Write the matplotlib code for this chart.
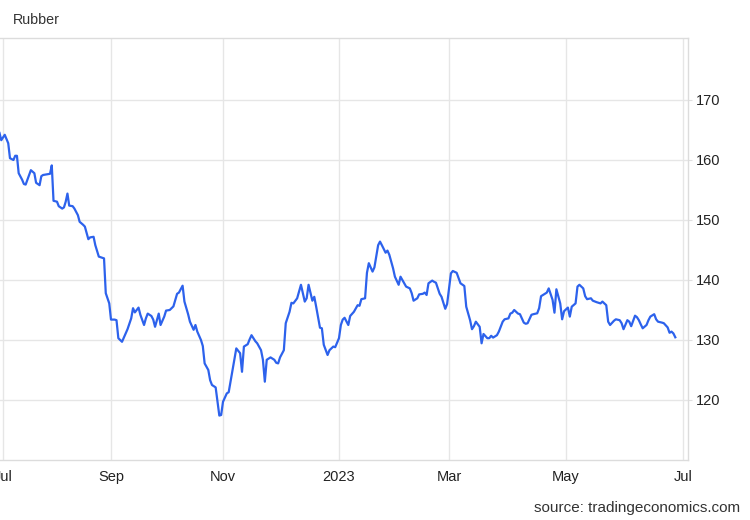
import datetime as dt
import numpy as np
import matplotlib
matplotlib.use("Agg")
import matplotlib.pyplot as plt
import matplotlib.dates as mdates

# rubber price; x = days after 2022-07-01
start = dt.date(2022, 7, 1)
day_offsets = [
    -2, -1, 1, 3, 4, 6, 7, 8, 9, 11, 12, 13, 15, 16, 18, 19, 21, 22, 23, 25,
    27, 28, 29, 31, 32, 34, 35, 36, 37, 38, 40, 41, 43, 44, 46, 47, 49, 50, 52, 53,
    55, 56, 58, 59, 61,
    62, 64, 65, 66, 68, 70, 71, 73, 74, 75, 77, 78, 80, 81, 82, 84, 85, 86, 88, 89,
    91, 92, 94, 96, 98, 99, 101, 102, 104, 105, 107, 108, 109, 111, 112, 113, 115, 116, 117, 119,
    121, 122,
    123, 125, 126, 128, 129, 130, 132, 133, 134, 136, 137, 138, 140, 141, 143, 144, 145, 146, 148, 150,
    151, 152, 153, 155, 156, 158, 159, 160, 162, 163, 164, 166, 167, 168, 170, 171, 172, 174, 175, 176,
    178, 179, 181, 182, 184,
    185, 186, 187, 189, 190, 192, 194, 195, 196, 198, 199, 200, 202, 203, 205, 206, 207, 209, 210, 211,
    213, 214, 216, 217, 219, 220, 222, 223, 224, 226, 227, 229, 230, 231, 232, 234, 235, 236, 238, 239,
    241, 242,
    244, 245, 247, 248, 249, 251, 252, 254, 255, 256, 257, 259, 260, 261, 263, 264, 265, 266, 268, 269,
    271, 272, 274, 275, 276, 277, 279, 280, 282, 283, 284, 286, 287, 289, 290, 291, 292, 294, 295, 297,
    298, 299, 301, 302, 303,
    305, 306, 307, 309, 310, 311, 313, 314, 315, 317, 318, 320, 322, 323, 325, 326, 327, 329, 330, 332,
    333, 334, 336, 337, 338, 340, 341, 342, 343, 344, 346, 347, 348, 350, 351, 352, 354, 355, 357, 358,
    359, 360, 361,
]
prices = [
    164.5, 163.3, 164.2, 162.8, 160.3, 160.0, 160.7, 160.7, 157.8, 156.7, 156.0, 155.9, 157.5, 158.3, 157.8, 156.2, 155.8, 157.3, 157.5, 157.6,
    157.7, 159.1, 153.2, 153.05, 152.3, 151.9, 152.1, 153.05, 154.4, 152.4, 152.3, 151.9, 150.8, 149.7, 149.2, 148.9, 146.8, 147.1, 147.2, 145.8,
    143.9, 143.8, 143.6, 137.8, 136.1,
    133.4, 133.4, 133.3, 130.3, 129.7, 131.1, 131.8, 133.6, 135.3, 134.6, 135.4, 134.2, 132.5, 133.6, 134.4, 134.0, 133.4, 132.2, 134.4, 132.5,
    133.9, 134.9, 135.0, 135.6, 137.7, 137.9, 139.05, 136.4, 134.3, 133.05, 131.7, 132.5, 131.4, 130.0, 129.0, 126.1, 125.0, 123.3, 122.5, 122.1,
    117.4, 117.5,
    119.7, 121.1, 121.3, 125.0, 126.8, 128.6, 127.8, 124.7, 128.9, 129.3, 130.1, 130.8, 129.8, 129.45, 128.3, 126.7, 123.05, 126.7, 127.1, 126.7,
    126.2, 126.1, 127.1, 128.3, 132.8, 134.7, 136.2, 136.1, 136.95, 138.05, 139.2, 136.4, 136.95, 139.2, 136.55, 137.2, 135.55, 132.05, 131.95, 129.2,
    127.5, 128.3, 128.9, 128.8, 130.3,
    132.5, 133.4, 133.7, 132.5, 134.0, 134.7, 135.8, 135.7, 136.8, 136.95, 141.2, 142.8, 141.4, 142.1, 145.8, 146.4, 145.8, 144.55, 144.9, 144.2,
    141.95, 140.55, 139.2, 140.55, 139.45, 138.9, 138.6, 137.8, 136.55, 136.95, 137.6, 137.7, 137.9, 137.5, 139.45, 139.9, 139.7, 139.55, 137.7, 137.2,
    135.2, 136.0,
    141.1, 141.5, 141.2, 140.3, 139.45, 139.0, 135.55, 133.3, 131.8, 132.3, 133.05, 132.2, 129.45, 131.0, 130.3, 130.3, 130.7, 130.4, 130.8, 131.4,
    133.05, 133.45, 133.6, 134.4, 134.55, 135.0, 134.4, 134.3, 132.9, 132.7, 132.8, 134.2, 134.3, 134.45, 135.3, 137.3, 137.5, 137.9, 138.6, 136.7,
    134.55, 138.45, 136.1, 133.45, 134.8,
    135.4, 133.9, 135.55, 136.1, 138.9, 139.2, 138.6, 137.3, 136.8, 136.95, 136.55, 136.3, 136.1, 136.4, 135.8, 133.05, 132.5, 133.2, 133.45, 133.3,
    132.8, 131.8, 133.3, 133.05, 132.3, 134.05, 133.8, 133.3, 132.6, 131.95, 132.5, 133.3, 133.9, 134.3, 133.45, 133.05, 132.9, 132.8, 132.1, 131.2,
    131.4, 131.1, 130.45,
]
tick_dates = ["2022-07-01", "2022-09-01", "2022-11-01", "2023-01-01",
              "2023-03-01", "2023-05-01", "2023-07-01"]
tick_labels = ["Jul", "Sep", "Nov", "2023", "Mar", "May", "Jul"]
y_ticks = [120, 130, 140, 150, 160, 170]

dates = [start + dt.timedelta(days=d) for d in day_offsets]
tick_dt = [dt.datetime.strptime(s, "%Y-%m-%d") for s in tick_dates]

# the source axis is not evenly spaced in calendar days (trading sessions),
# so use a piecewise-linear scale that puts the month starts where it does
tick_num = mdates.date2num(tick_dt)
tick_pos = np.array([3, 111, 223, 339, 449, 566, 683], dtype=float)
anchor_num = np.concatenate([[tick_num[0] - 62], tick_num, [tick_num[-1] + 61]])
anchor_pos = np.concatenate([[tick_pos[0] - 108], tick_pos, [tick_pos[-1] + 117]])


def fwd(x):
    return np.interp(x, anchor_num, anchor_pos)


def inv(p):
    return np.interp(p, anchor_pos, anchor_num)


plt.rcParams["font.family"] = ["Liberation Sans", "DejaVu Sans"]

fig = plt.figure(figsize=(7.5, 5.2), dpi=100)
ax = fig.add_axes([0.0, 0.1154, 0.9173, 0.8115])

ax.plot(dates, prices, color="#2d62ec", linewidth=1.6, solid_joinstyle="round")

ax.set_xscale("function", functions=(fwd, inv))
ax.set_ylim(110, 180.33)
ax.set_xlim(inv(0), inv(688))

ax.set_xticks(tick_num)
ax.set_xticklabels(tick_labels)
ax.xaxis.set_minor_locator(matplotlib.ticker.NullLocator())
ax.set_yticks(y_ticks)
ax.yaxis.tick_right()

ax.grid(True, color="#e6e6e6", linewidth=1)
ax.set_axisbelow(True)
ax.spines["left"].set_visible(False)
for side in ["top", "right", "bottom"]:
    ax.spines[side].set_color("#dcdcdc")
    ax.spines[side].set_linewidth(1)

ax.tick_params(axis="x", length=0, pad=7, labelsize=10.5, labelcolor="#222222")
ax.tick_params(axis="y", length=3, color="#e0e0e0", pad=3, labelsize=10.5,
               labelcolor="#222222", right=True, left=False)

fig.text(13 / 750, 1 - 20 / 520, "Rubber", fontsize=10.3, color="#333333",
         ha="left", va="center")
fig.text(740 / 750, 1 - 508 / 520, "source: tradingeconomics.com", fontsize=11,
         color="#333333", ha="right", va="center")

fig.savefig("out.png", dpi=100)
